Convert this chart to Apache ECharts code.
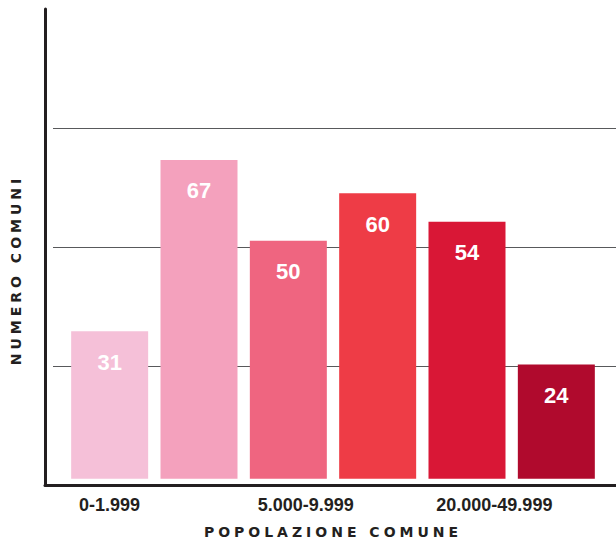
<!DOCTYPE html>
<html>
<head>
<meta charset="utf-8">
<script src="https://cdn.jsdelivr.net/npm/echarts@6/dist/echarts.min.js"></script>
<style>html,body{margin:0;padding:0;background:#fff;}#chart{width:616px;height:540px;}</style>
</head>
<body>
<div id="chart"></div>
<script>
const categories = ['0-1.999', '2.000-4.999', '5.000-9.999', '10.000-19.999', '20.000-49.999', '50.000+'];
const values = [31, 67, 50, 60, 54, 24];
const barColors = ['#f5c0d8', '#f4a1bd', '#ef6580', '#ee3c46', '#d91736', '#b00a2d'];
const xTitle = 'POPOLAZIONE COMUNE';
const yTitle = 'NUMERO COMUNI';
const yMax = 100;
const yStep = 25;

const sans = "'Liberation Sans', Arial, sans-serif";
const wide = "'DejaVu Sans', 'Verdana', sans-serif";
const ink = '#231f20';

const gridBase = {top: 9, bottom: 55, outerBoundsMode: 'none', containLabel: false};
const chart = echarts.init(document.getElementById('chart'), null, {renderer: 'svg'});
chart.setOption({
  animation: false,
  backgroundColor: '#fff',
  grid: [
    Object.assign({left: 53, right: 0}, gridBase),     // split lines
    Object.assign({left: 45, right: 0}, gridBase),     // axis frame
    Object.assign({left: 65, right: 15}, gridBase),    // bars
    Object.assign({left: 34.3, right: 45.7}, gridBase) // left-aligned category labels
  ],
  xAxis: [
    {gridIndex: 0, type: 'category', data: [''], show: false},
    {gridIndex: 1, type: 'category', data: [''],
      axisLine: {show: true, lineStyle: {color: ink, width: 3}},
      axisTick: {show: false}, axisLabel: {show: false}, splitLine: {show: false}},
    {gridIndex: 2, type: 'category', data: categories,
      axisLine: {show: false}, axisTick: {show: false}, axisLabel: {show: false},
      name: xTitle, nameLocation: 'middle', nameGap: 40,
      nameTextStyle: {fontFamily: wide, fontWeight: 'bold', fontSize: 14, color: ink}},
    {gridIndex: 3, type: 'category', data: categories,
      axisLine: {show: false}, axisTick: {show: false},
      axisLabel: {interval: 1, margin: 11, align: 'left', fontSize: 18, fontWeight: 'bold', color: ink, fontFamily: sans}}
  ],
  yAxis: [
    {gridIndex: 0, type: 'value', min: 0, max: yMax, interval: yStep,
      splitLine: {show: true, showMinLine: false, showMaxLine: false, lineStyle: {color: '#58595b', width: 1}},
      axisLine: {show: false}, axisTick: {show: false}, axisLabel: {show: false}},
    {gridIndex: 1, type: 'value', min: 0, max: yMax,
      splitLine: {show: false},
      axisLine: {show: true, lineStyle: {color: ink, width: 3}},
      axisTick: {show: false}, axisLabel: {show: false}},
    {gridIndex: 2, type: 'value', min: -1.3, max: yMax - 1.3, show: false, splitLine: {show: false}},
    {gridIndex: 3, type: 'value', min: 0, max: yMax, show: false, splitLine: {show: false}}
  ],
  graphic: [{
    type: 'text', x: 16, y: 270, rotation: Math.PI / 2,
    style: {text: yTitle, fill: ink, font: "bold 14px 'DejaVu Sans', sans-serif",
      textAlign: 'center', textVerticalAlign: 'middle'}
  }],
  series: [{
    type: 'bar', xAxisIndex: 2, yAxisIndex: 2,
    barWidth: 77,
    data: values.map((v, i) => ({value: v, itemStyle: {color: barColors[i]}})),
    label: {show: true, position: 'insideTop', distance: 20, color: '#fff',
      fontSize: 22, fontWeight: 'bold', fontFamily: sans}
  }]
});

function spaceTitles() {
  document.querySelectorAll('#chart text').forEach(t => {
    const s = t.textContent;
    if (s === xTitle || s === yTitle) {
      t.style.letterSpacing = '4px';
    }
  });
}
spaceTitles();
chart.on('finished', spaceTitles);
setTimeout(spaceTitles, 50);
</script>
</body>
</html>
